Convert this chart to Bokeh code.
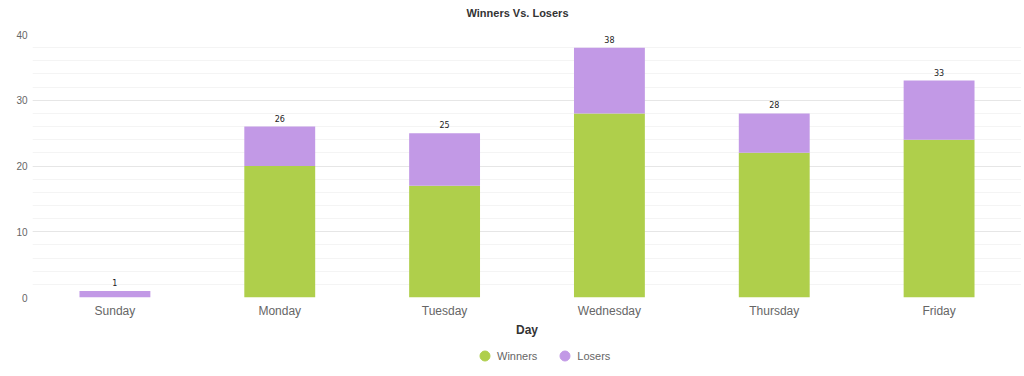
from bokeh.plotting import figure
from bokeh.layouts import column
from bokeh.models import (ColumnDataSource, FactorRange, Range1d, SingleIntervalTicker,
                          Legend, LegendItem, Label)
from bokeh.core.properties import value
from bokeh.embed import file_html
from bokeh.resources import INLINE

days = ["Sunday", "Monday", "Tuesday", "Wednesday", "Thursday", "Friday"]
winners = [0, 20, 17, 28, 22, 24]
losers = [1, 6, 8, 10, 6, 9]
totals = [w + l for w, l in zip(winners, losers)]
series = ["Winners", "Losers"]
title_text = "Winners Vs. Losers"

GREEN = "#afcf4b"
PURPLE = "#c299e6"
FONT = "Liberation Sans"


def strip(h):
    f = figure(width=1021, height=h, x_range=Range1d(0, 1), y_range=Range1d(0, 1),
               output_backend="svg", toolbar_location=None,
               x_axis_location=None, y_axis_location=None,
               min_border_left=0, min_border_right=0, min_border_top=0, min_border_bottom=0)
    f.outline_line_color = None
    f.xgrid.grid_line_color = None
    f.ygrid.grid_line_color = None
    return f


# title strip
tt = strip(20)
tt.add_layout(Label(x=485, y=8, x_units="screen", y_units="screen", text=title_text,
                    text_align="center", text_baseline="middle", text_font=FONT,
                    text_font_size="11px", text_font_style="bold", text_color="#333333"))

src = ColumnDataSource(dict(day=days, Winners=winners, Losers=losers, total=totals,
                            label=[str(t) for t in totals]))

p = figure(width=1021, height=321, x_range=FactorRange(*days, range_padding=0),
           y_range=Range1d(0, 40), output_backend="svg", toolbar_location=None,
           min_border_left=32, min_border_right=0, min_border_top=14, min_border_bottom=44)

p.outline_line_color = None
p.background_fill_color = "white"

p.vbar_stack(series, x="day", width=0.43, source=src,
             color=[GREEN, PURPLE], line_color=None)

p.text(x="day", y="total", text="label", source=src, text_align="center",
       text_baseline="bottom", y_offset=-5, text_font=value("DejaVu Sans"),
       text_font_size="8px", text_color="#222222")

# axes
p.yaxis.ticker = SingleIntervalTicker(interval=10, num_minor_ticks=5)
p.yaxis.axis_line_color = None
p.yaxis.major_tick_line_color = None
p.yaxis.minor_tick_line_color = None
p.yaxis.major_tick_out = 0
p.yaxis.minor_tick_out = 0
p.yaxis.major_label_text_font = FONT
p.yaxis.major_label_text_font_size = "10px"
p.yaxis.major_label_text_color = "#666666"
p.yaxis.major_label_standoff = 5

p.xaxis.axis_line_color = None
p.xaxis.major_tick_line_color = None
p.xaxis.minor_tick_line_color = None
p.xaxis.major_tick_out = 0
p.xaxis.minor_tick_out = 0
p.xaxis.major_label_text_font = FONT
p.xaxis.major_label_text_font_size = "12px"
p.xaxis.major_label_text_color = "#666666"
p.xaxis.major_label_standoff = 6
p.xaxis.axis_label = "Day"
p.xaxis.axis_label_text_font = FONT
p.xaxis.axis_label_text_font_size = "12px"
p.xaxis.axis_label_text_font_style = "bold"
p.xaxis.axis_label_text_color = "#333333"
p.xaxis.axis_label_standoff = 2

p.xgrid.grid_line_color = None
p.ygrid.grid_line_color = "#e6e6e6"
p.ygrid.minor_grid_line_color = "#f4f4f4"

# legend strip below the chart
lg = strip(29)
d1 = lg.scatter(x=[-5], y=[-5], marker="circle", size=10, color=GREEN)
d2 = lg.scatter(x=[-5], y=[-5], marker="circle", size=10, color=PURPLE)
legend = Legend(items=[LegendItem(label=series[0], renderers=[d1]),
                       LegendItem(label=series[1], renderers=[d2])],
                orientation="horizontal", location=(440, 2),
                label_text_font=FONT, label_text_font_size="11px",
                label_text_color="#666666", border_line_color=None,
                background_fill_alpha=0, label_standoff=0,
                glyph_width=25, glyph_height=25, spacing=15, padding=0, margin=0)
lg.add_layout(legend, "center")

layout = column(tt, p, lg, spacing=0)
open("out.html", "w").write(file_html(layout, INLINE))
